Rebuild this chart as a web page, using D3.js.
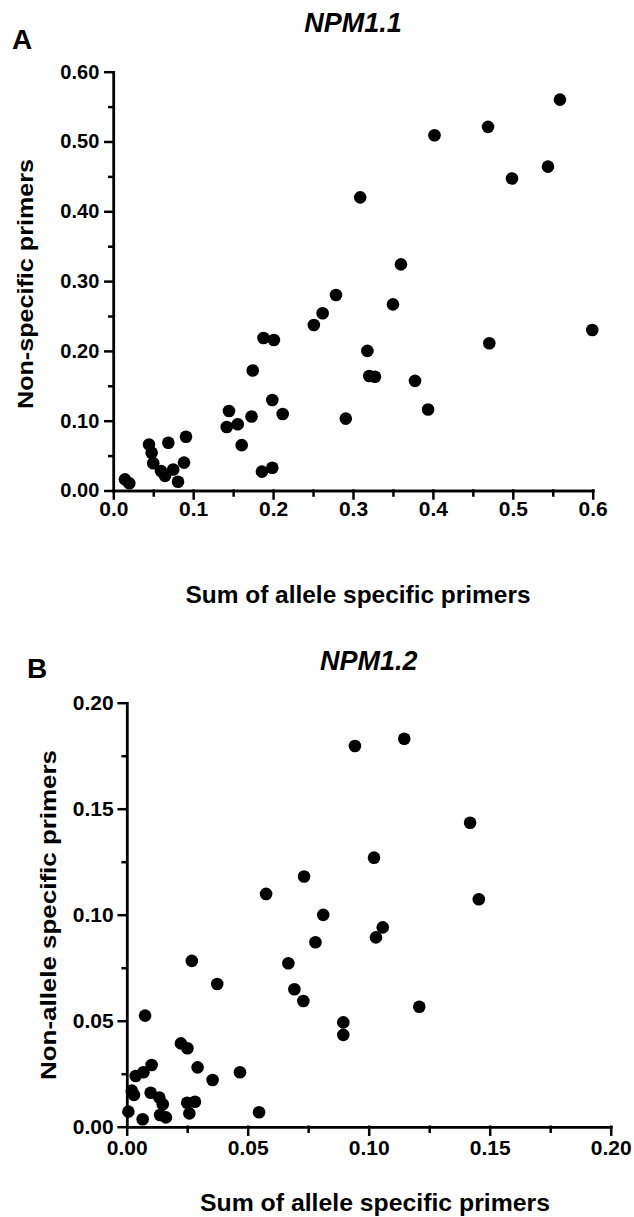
<!DOCTYPE html>
<html>
<head>
<meta charset="utf-8">
<script src="https://cdn.jsdelivr.net/npm/d3@7"></script>
<style>
  body { margin: 0; background: #fff; }
  text { font-family: "Liberation Sans", Arial, sans-serif; font-weight: bold; fill: #000; }
  .axis path, .axis line { stroke: #000; stroke-width: 2.5; stroke-linecap: square; }
</style>
</head>
<body>
<svg width="634" height="1217"></svg>
<script>
// panel A : NPM1.1
var aX = [0.559, 0.469, 0.402, 0.544, 0.499, 0.309, 0.360,
  0.0146, 0.020, 0.0447, 0.048, 0.050, 0.0597, 0.0647, 0.0689, 0.075, 0.081, 0.0885, 0.091,
  0.142, 0.1448, 0.1557, 0.1607, 0.173, 0.1745, 0.186, 0.188, 0.199, 0.199, 0.201, 0.212,
  0.251, 0.262, 0.2787, 0.291,
  0.350, 0.5995, 0.4706, 0.318, 0.3204, 0.3275, 0.3776, 0.394];
var aY = [0.560, 0.521, 0.509, 0.464, 0.447, 0.420, 0.324,
  0.016, 0.0103, 0.066, 0.054, 0.039, 0.028, 0.021, 0.0685, 0.030, 0.0126, 0.040, 0.077,
  0.091, 0.114, 0.095, 0.065, 0.106, 0.172, 0.027, 0.2185, 0.0327, 0.1297, 0.2156, 0.1096,
  0.237, 0.254, 0.280, 0.103,
  0.2667, 0.230, 0.211, 0.200, 0.164, 0.163, 0.157, 0.116];

// panel B : NPM1.2
var bX = [0.0943, 0.0733, 0.0576, 0.0812,
  0.1147, 0.1419, 0.1022, 0.1455, 0.1058,
  0.078, 0.0668, 0.0693, 0.073, 0.0895, 0.0895, 0.0269, 0.0374, 0.0076, 0.0224,
  0.0251, 0.0103, 0.0069, 0.0037, 0.0293, 0.0468, 0.0355, 0.0021, 0.003, 0.0099,
  0.0135, 0.0149, 0.0138, 0.0162, 0.0007, 0.0066, 0.025, 0.0282, 0.0259, 0.0547,
  0.103, 0.1209];
var bY = [0.1796, 0.118, 0.1098, 0.0999,
  0.183, 0.1434, 0.1269, 0.1073, 0.094,
  0.087, 0.0771, 0.0648, 0.0593, 0.0492, 0.0433, 0.0782, 0.0673, 0.0524, 0.0393,
  0.037, 0.0291, 0.0257, 0.0239, 0.028, 0.0257, 0.022, 0.017, 0.015, 0.016,
  0.0137, 0.0106, 0.0055, 0.0044, 0.0071, 0.0035, 0.0113, 0.0118, 0.0063, 0.0068,
  0.0893, 0.0566];

var aXTicks = [0, 0.1, 0.2, 0.3, 0.4, 0.5, 0.6];
var aXMinor = [0.05, 0.15, 0.25, 0.35, 0.45, 0.55];
var aYTicks = [0, 0.1, 0.2, 0.3, 0.4, 0.5, 0.6];
var aYMinor = [0.05, 0.15, 0.25, 0.35, 0.45, 0.55];
var bTicks = [0, 0.05, 0.10, 0.15, 0.20];
var bMinor = [0.025, 0.075, 0.125, 0.175];

var svg = d3.select("svg");

function panel(p) {
  var x = d3.scaleLinear().domain(p.xDomain).range(p.xRange);
  var y = d3.scaleLinear().domain(p.yDomain).range(p.yRange);

  // minor ticks first, then major axis on top
  svg.append("g").attr("class", "axis")
    .attr("transform", "translate(0," + p.yRange[0] + ")")
    .call(d3.axisBottom(x).tickValues(p.xMinor).tickSize(5).tickSizeOuter(0).tickFormat(""));
  svg.append("g").attr("class", "axis")
    .attr("transform", "translate(" + p.xRange[0] + ",0)")
    .call(d3.axisLeft(y).tickValues(p.yMinor).tickSize(4).tickSizeOuter(0).tickFormat(""));

  var xa = svg.append("g").attr("class", "axis")
    .attr("transform", "translate(0," + p.yRange[0] + ")")
    .call(d3.axisBottom(x).tickValues(p.xTicks).tickSize(8).tickSizeOuter(0)
      .tickPadding(p.xPad).tickFormat(d3.format(p.xFmt)));
  xa.selectAll("text").style("font-size", p.xFont + "px").attr("font-family", null);

  var ya = svg.append("g").attr("class", "axis")
    .attr("transform", "translate(" + p.xRange[0] + ",0)")
    .call(d3.axisLeft(y).tickValues(p.yTicks).tickSize(8).tickSizeOuter(0)
      .tickPadding(p.yPad).tickFormat(d3.format(p.yFmt)));
  ya.selectAll("text").style("font-size", p.yFont + "px").attr("font-family", null);
  svg.selectAll(".axis").attr("font-family", null).attr("font-size", null);

  svg.append("g").selectAll("circle")
    .data(p.xs)
    .enter()
    .append("circle")
      .attr("cx", function(d){ return x(d); })
      .attr("cy", function(d, i){ return y(p.ys[i]); })
      .attr("r", 6.3)
      .attr("fill", "#000");

  svg.append("text")
    .attr("x", p.letter[0]).attr("y", p.letter[1])
    .style("font-size", "28px")
    .text(p.letterText);

  svg.append("text")
    .attr("x", (p.xRange[0] + p.xRange[1]) / 2).attr("y", p.titleY)
    .attr("text-anchor", "middle")
    .style("font-size", "27px").style("font-style", "italic")
    .text(p.title);

  svg.append("text")
    .attr("transform", "translate(" + p.yLab[0] + "," + p.yLab[1] + ") rotate(-90)")
    .attr("text-anchor", "middle")
    .attr("textLength", p.yLab[2]).attr("lengthAdjust", "spacingAndGlyphs")
    .style("font-size", "22px")
    .text(p.yLabel);

  svg.append("text")
    .attr("x", p.xLab[0]).attr("y", p.xLab[1])
    .attr("text-anchor", "middle")
    .attr("textLength", p.xLab[2]).attr("lengthAdjust", "spacingAndGlyphs")
    .style("font-size", "24px")
    .text("Sum of allele specific primers");
}

panel({
  xs: aX, ys: aY,
  xDomain: [0, 0.6], xRange: [113.3, 592.7],
  yDomain: [0, 0.6], yRange: [490.5, 71.7],
  xTicks: aXTicks, xMinor: aXMinor, yTicks: aYTicks, yMinor: aYMinor,
  xFmt: ".1f", yFmt: ".2f", xFont: 21, yFont: 20, xPad: 3, yPad: 6,
  letterText: "A", letter: [12, 49],
  title: "NPM1.1", titleY: 32,
  yLabel: "Non-specific primers", yLab: [33, 284, 250],
  xLab: [358, 603, 345]
});

panel({
  xs: bX, ys: bY,
  xDomain: [0, 0.2], xRange: [126.7, 610.7],
  yDomain: [0, 0.2], yRange: [1126.7, 702.7],
  xTicks: bTicks, xMinor: bMinor, yTicks: bTicks, yMinor: bMinor,
  xFmt: ".2f", yFmt: ".2f", xFont: 21, yFont: 21, xPad: 5, yPad: 5,
  letterText: "B", letter: [27, 678],
  title: "NPM1.2", titleY: 670,
  yLabel: "Non-allele specific primers", yLab: [56, 915, 330],
  xLab: [375, 1211, 350]
});
</script>
</body>
</html>
